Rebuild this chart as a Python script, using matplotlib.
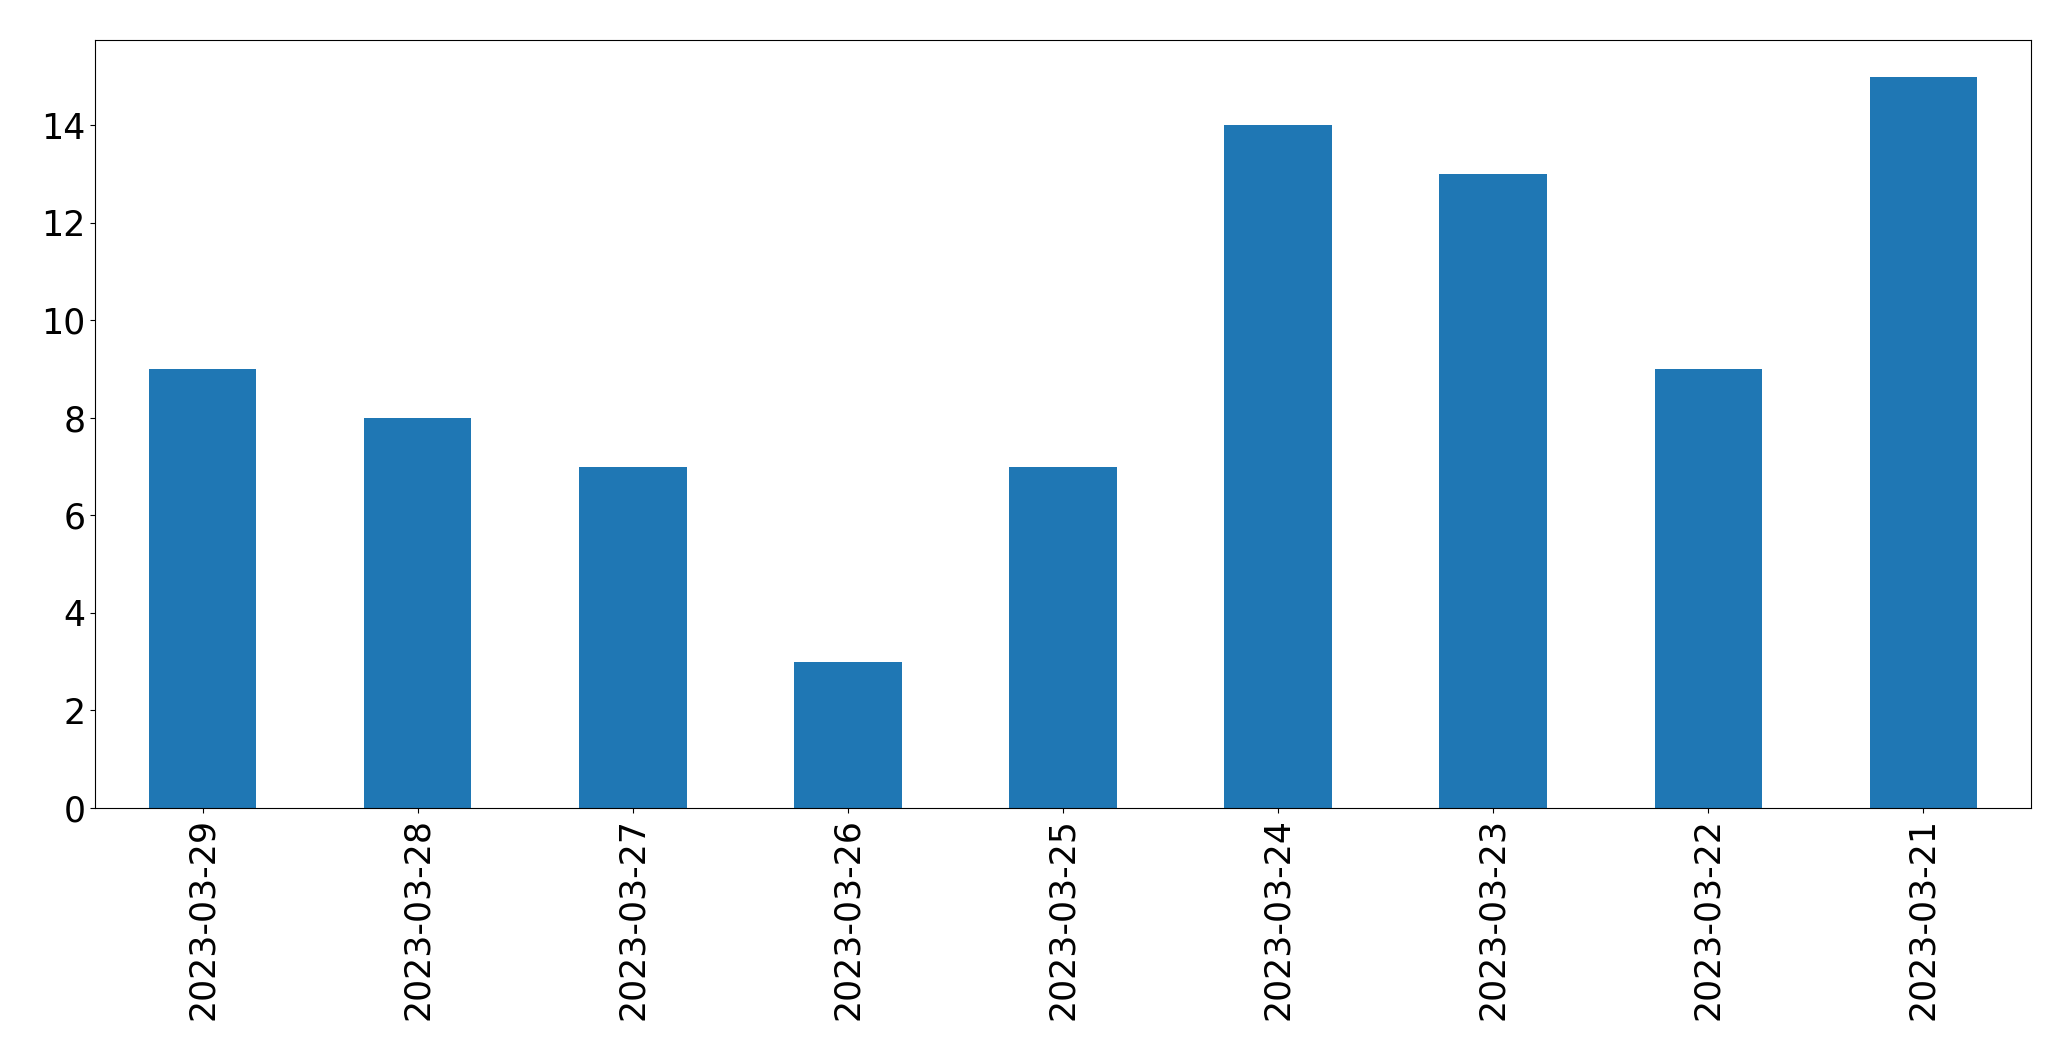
import matplotlib
matplotlib.use("Agg")
import matplotlib.pyplot as plt
import pandas as pd

dates = ["2023-03-29", "2023-03-28", "2023-03-27", "2023-03-26", "2023-03-25",
         "2023-03-24", "2023-03-23", "2023-03-22", "2023-03-21"]
counts = [9, 8, 7, 3, 7, 14, 13, 9, 15]

s = pd.Series(counts, index=dates)

fig, ax = plt.subplots(figsize=(20.71, 10.61), dpi=100)
s.plot(kind="bar", ax=ax, color="#1f77b4", fontsize=25)

fig.subplots_adjust(left=0.0459, right=0.9807, top=0.9623, bottom=0.2385)
fig.savefig("out.png", dpi=100)
